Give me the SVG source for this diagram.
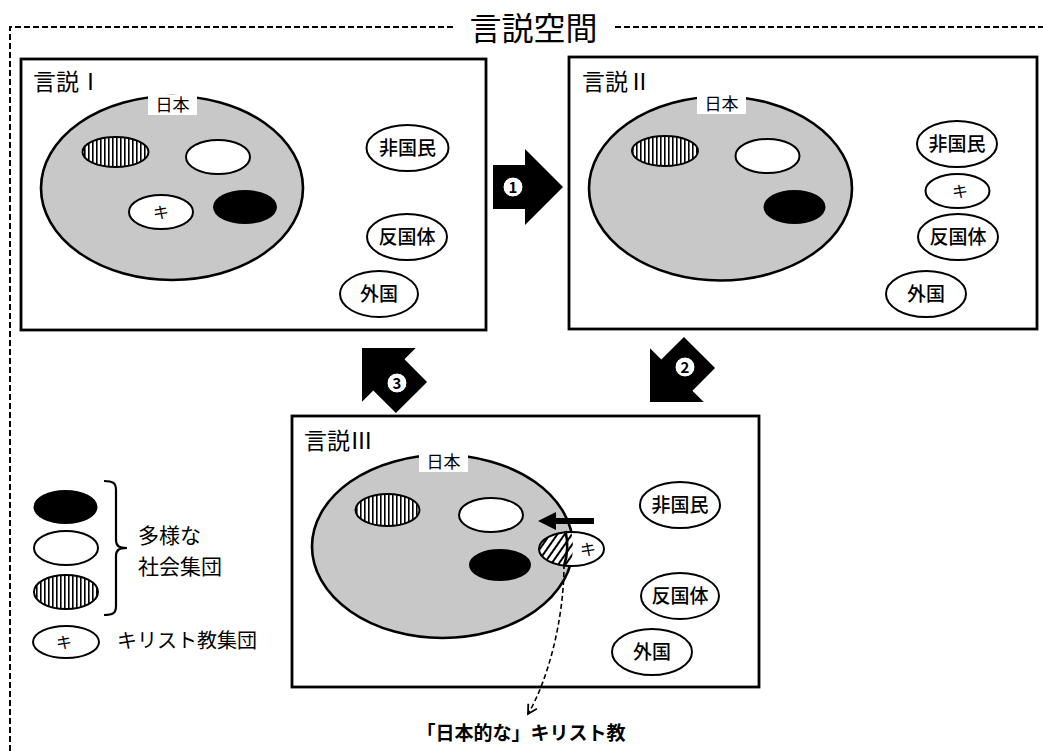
<svg xmlns="http://www.w3.org/2000/svg" width="1043" height="751" viewBox="0 0 1043 751">
<defs>
<style>
.t{font-family:"Noto Sans CJK JP","Noto Sans",sans-serif;fill:#000}
.box{fill:#fff;stroke:#000;stroke-width:2.8}
.big{fill:#c8c8c8;stroke:#000;stroke-width:2.6}
.e{stroke:#000;stroke-width:2}
.w{fill:#fff}
.b{fill:#000}
.v{fill:url(#vh)}
.lbl{font-size:19px;text-anchor:middle;font-weight:500}
.ki{font-size:16px;text-anchor:middle}
.ttl{font-size:23px}
.jp{font-size:17px;text-anchor:middle}
.num{font-size:15px;font-weight:bold;text-anchor:middle}
.dash{fill:none;stroke:#000;stroke-width:2;stroke-dasharray:6 3}
</style>
<pattern id="vh" width="4" height="4" patternUnits="userSpaceOnUse">
<rect width="4" height="4" fill="#fff"/>
<rect x="0" y="0" width="1.6" height="4" fill="#000"/>
</pattern>
<pattern id="dh" width="6" height="6" patternUnits="userSpaceOnUse" patternTransform="rotate(35)">
<rect width="6" height="6" fill="#fff"/>
<rect x="0" y="0" width="2" height="6" fill="#000"/>
</pattern>
<clipPath id="c3"><ellipse cx="442.5" cy="546.5" rx="130.5" ry="91.5"/></clipPath>
<path id="blk" d="M0,0 L-38,-38 L-38,-22 L-70,-22 L-70,22 L-38,22 L-38,38 Z"/>
<marker id="open" markerWidth="12" markerHeight="12" refX="10" refY="6" orient="auto" markerUnits="userSpaceOnUse">
<path d="M1,1 L10,6 L1,11" fill="none" stroke="#000" stroke-width="1.8"/>
</marker>
</defs>
<rect width="1043" height="751" fill="#fff"/>

<g id="frame">
<path class="dash" d="M10,751 V27 H455 M615,27 H1043"/>
<text class="t" x="533.5" y="40" font-size="32" text-anchor="middle">言説空間</text>
</g>

<g id="discourse1">
<rect class="box" x="21" y="59" width="465" height="271"/>
<text class="t ttl" x="33" y="90">言説Ⅰ</text>
<ellipse class="big" cx="172" cy="188" rx="131" ry="92"/>
<rect x="148" y="95" width="49" height="20" fill="#fff"/>
<text class="t jp" x="172.5" y="111">日本</text>
<ellipse class="e v" cx="115.5" cy="152" rx="33" ry="15"/>
<ellipse class="e w" cx="218" cy="157" rx="32" ry="17"/>
<ellipse class="e w" cx="161" cy="212" rx="32" ry="17"/>
<text class="t ki" x="161" y="218">キ</text>
<ellipse class="e b" cx="245" cy="207" rx="31" ry="16"/>
<ellipse class="e w" cx="407.5" cy="148" rx="41" ry="23"/>
<text class="t lbl" x="407.5" y="155">非国民</text>
<ellipse class="e w" cx="407" cy="237" rx="40" ry="23"/>
<text class="t lbl" x="407" y="244">反国体</text>
<ellipse class="e w" cx="379" cy="294" rx="39" ry="23"/>
<text class="t lbl" x="379" y="301">外国</text>
</g>

<g id="discourse2">
<rect class="box" x="569" y="57" width="468" height="272"/>
<text class="t ttl" x="582" y="90">言説Ⅱ</text>
<ellipse class="big" cx="720.5" cy="188.5" rx="131.5" ry="92"/>
<rect x="697" y="95" width="49" height="19" fill="#fff"/>
<text class="t jp" x="721.5" y="110">日本</text>
<ellipse class="e v" cx="665" cy="151" rx="33" ry="15"/>
<ellipse class="e w" cx="767.5" cy="156" rx="32" ry="17"/>
<ellipse class="e b" cx="794.5" cy="207" rx="30" ry="16"/>
<ellipse class="e w" cx="957" cy="144" rx="40" ry="23"/>
<text class="t lbl" x="957" y="151">非国民</text>
<ellipse class="e w" cx="957.5" cy="191" rx="32" ry="17"/>
<text class="t ki" x="960" y="197">キ</text>
<ellipse class="e w" cx="958" cy="237" rx="40" ry="23"/>
<text class="t lbl" x="958" y="244">反国体</text>
<ellipse class="e w" cx="926" cy="294" rx="40" ry="23"/>
<text class="t lbl" x="926" y="301">外国</text>
</g>

<g id="discourse3">
<rect class="box" x="292" y="416" width="467" height="271"/>
<text class="t ttl" x="304" y="449">言説Ⅲ</text>
<ellipse class="big" cx="442.5" cy="546.5" rx="130.5" ry="91.5"/>
<rect x="419" y="453" width="49" height="19" fill="#fff"/>
<text class="t jp" x="443.5" y="468">日本</text>
<ellipse class="e v" cx="387.5" cy="510" rx="32" ry="16"/>
<ellipse class="e w" cx="491" cy="515" rx="32" ry="17"/>
<ellipse class="e b" cx="500" cy="565" rx="30" ry="15"/>
<ellipse fill="#fff" cx="571.5" cy="549" rx="32.5" ry="17"/>
<ellipse fill="url(#dh)" cx="571.5" cy="549" rx="32.5" ry="17" clip-path="url(#c3)"/>
<path d="M565.5,531 A130.5,91.5 0 0 1 564,566" fill="none" stroke="#000" stroke-width="2.6"/>
<ellipse class="e" fill="none" cx="571.5" cy="549" rx="32.5" ry="17"/>
<text class="t ki" x="588" y="555">キ</text>
<ellipse class="e w" cx="680" cy="505" rx="40" ry="23"/>
<text class="t lbl" x="680" y="512">非国民</text>
<ellipse class="e w" cx="680" cy="596" rx="39" ry="23"/>
<text class="t lbl" x="680" y="603">反国体</text>
<ellipse class="e w" cx="652" cy="652" rx="40" ry="23"/>
<text class="t lbl" x="652" y="659">外国</text>
</g>

<g id="legend">
<ellipse class="e b" cx="65.5" cy="507" rx="31" ry="16"/>
<ellipse class="e w" cx="66" cy="548" rx="32" ry="17"/>
<ellipse class="e v" cx="66" cy="592" rx="32" ry="17"/>
<path d="M104,481 C113,481 116,483 116,490 V540 C116,546 119,548 127,548 C119,548 116,550 116,556 V606 C116,613 113,615 104,615" fill="none" stroke="#000" stroke-width="2.2"/>
<text class="t" x="138" y="543" font-size="21">多様な</text>
<text class="t" x="138" y="574" font-size="21">社会集団</text>
<ellipse class="e w" cx="66" cy="642" rx="33" ry="16"/>
<text class="t ki" x="64" y="648">キ</text>
<text class="t" x="117" y="648" font-size="20">キリスト教集団</text>
</g>

<g id="connectors">
<g id="step1">
<use href="#blk" transform="translate(563,187)"/>
<circle cx="513" cy="187" r="10" fill="#fff" stroke="#000" stroke-width="1"/>
<text class="t num" x="513" y="192.5">1</text>
</g>
<g id="step2">
<use href="#blk" transform="translate(650,402) rotate(135)"/>
<circle cx="685" cy="367" r="10" fill="#fff" stroke="#000" stroke-width="1"/>
<text class="t num" x="685" y="372.5">2</text>
</g>
<g id="step3">
<use href="#blk" transform="translate(362,348) rotate(225)"/>
<circle cx="397" cy="383" r="10" fill="#fff" stroke="#000" stroke-width="1"/>
<text class="t num" x="397" y="388.5">3</text>
</g>
<line x1="594" y1="521" x2="550" y2="521" stroke="#000" stroke-width="6"/>
<polygon points="538,521 556,512 556,530" fill="#000"/>
<path d="M564,564 C564,620 548,680 528,714" fill="none" stroke="#000" stroke-width="1.6" stroke-dasharray="5 3" marker-end="url(#open)"/>
</g>

<text class="t" x="521" y="740" font-size="19" font-weight="bold" text-anchor="middle">「日本的な」キリスト教</text>
</svg>
